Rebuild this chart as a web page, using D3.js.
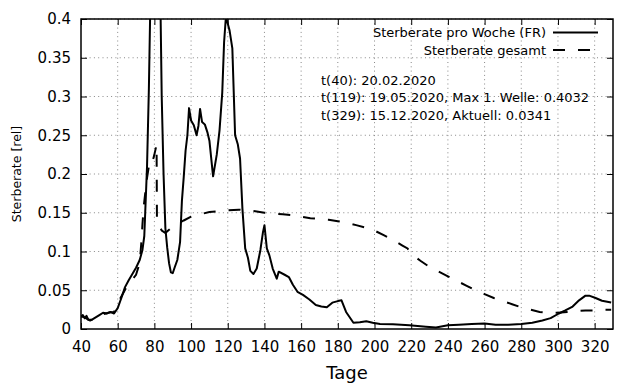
<!DOCTYPE html>
<html><head><meta charset="utf-8">
<script src="https://cdn.jsdelivr.net/npm/d3@7"></script>
<style>body{margin:0;background:#fff;} svg{display:block;font-family:"DejaVu Sans",sans-serif;}</style>
</head><body>
<svg id="c" width="640" height="384"></svg>
<script>
// Weekly death rate (FR)
const weeklyDays = [40,41,42,43,44,45,46,48,50,52,54,56,58,60,62,64,66,68,70,72,73.5,74.5,75,76,77,77.8,79,82,83.3,84,85,86,87,88,89,90,91,92.5,94,95,96,97,98,98.9,100,101.5,103,104,104.9,106,107.5,109,110,112,114,115.5,117,118,119,121,122.5,124,125.5,126.7,128,129.5,131,132.3,134,135.8,137.8,139.2,140,141.3,142.7,144.5,146.7,147.8,151,153.3,155.5,158,161,164.5,168,171,174,177,180,182,184.5,188.5,192,195.5,199,203,210,219,228,233.5,240,246,253,260,266,273,280,286,291.5,296,300.5,304,308,311.5,315,317,320.5,324,329];
const weeklyRate = [0.016,0.018,0.014,0.017,0.012,0.011,0.012,0.015,0.018,0.021,0.020,0.022,0.020,0.027,0.040,0.054,0.063,0.071,0.079,0.089,0.102,0.120,0.150,0.210,0.310,0.42,0.65,0.65,0.42,0.30,0.20,0.13,0.105,0.085,0.073,0.072,0.079,0.089,0.112,0.165,0.196,0.230,0.250,0.285,0.269,0.263,0.250,0.262,0.284,0.267,0.264,0.253,0.243,0.197,0.225,0.256,0.305,0.370,0.4032,0.385,0.362,0.250,0.238,0.220,0.155,0.104,0.092,0.075,0.071,0.078,0.102,0.125,0.134,0.104,0.095,0.078,0.065,0.074,0.070,0.067,0.057,0.048,0.044,0.038,0.031,0.029,0.028,0.034,0.036,0.037,0.022,0.008,0.0086,0.010,0.008,0.0064,0.006,0.0047,0.003,0.002,0.0047,0.0056,0.0064,0.007,0.0056,0.0056,0.0064,0.008,0.011,0.014,0.020,0.024,0.029,0.037,0.043,0.043,0.040,0.0365,0.0341];
// Total death rate
const totalDays = [40,42,44,46,50,55,58,60,62,65,68,70,72,73,73.5,74.2,75,76,77,78,79,80,81.2,81.4,82,84,86,88,90,93,96,100,105,110,115,120,126,130,135,140,145,150,155,160,165,170,175,180,185,190,195,200,205,210,215,218,220,225,230,235,240,245,250,255,260,265,270,275,280,285,290,295,300,305,310,315,320,325,329];
const totalRate = [0.016,0.015,0.012,0.012,0.018,0.021,0.022,0.033,0.042,0.055,0.064,0.070,0.085,0.115,0.135,0.158,0.175,0.195,0.210,0.218,0.216,0.225,0.238,0.140,0.136,0.127,0.124,0.128,0.132,0.136,0.140,0.145,0.148,0.151,0.152,0.153,0.154,0.153,0.152,0.150,0.149,0.148,0.147,0.145,0.143,0.142,0.141,0.139,0.137,0.134,0.131,0.127,0.121,0.115,0.108,0.104,0.097,0.088,0.080,0.074,0.068,0.062,0.056,0.050,0.045,0.040,0.036,0.032,0.028,0.025,0.022,0.021,0.021,0.022,0.023,0.024,0.024,0.025,0.025];
const xTicks = [40,60,80,100,120,140,160,180,200,220,240,260,280,300,320];
const yTicks = [0,0.05,0.1,0.15,0.2,0.25,0.3,0.35,0.4];
const legendLabels = ["Sterberate pro Woche (FR)","Sterberate gesamt"];
const infoLines = ["t(40): 20.02.2020","t(119): 19.05.2020, Max 1. Welle: 0.4032","t(329): 15.12.2020, Aktuell: 0.0341"];
const xTitle = "Tage", yTitle = "Sterberate [rel]";

const L=81, R=613, T=19, B=329;
const svg = d3.select("#c");
const x = d3.scaleLinear().domain([40,330]).range([L,R]);
const y = d3.scaleLinear().domain([0,0.4]).range([B,T]);

// grid
const g = svg.append("g");
g.selectAll(".gx").data(xTicks.filter(d=>d>40)).join("line")
  .attr("x1",d=>x(d)).attr("x2",d=>x(d)).attr("y1",T).attr("y2",B)
  .attr("stroke","#888").attr("stroke-width",1).attr("stroke-dasharray","1,3.3");
g.selectAll(".gy").data(yTicks.filter(d=>d>0)).join("line")
  .attr("y1",d=>y(d)).attr("y2",d=>y(d)).attr("x1",L).attr("x2",R)
  .attr("stroke","#888").attr("stroke-width",1).attr("stroke-dasharray","1,3.3");

// axes (ticks inward, mirrored)
const fmt = d=> d===0? "0" : String(+d.toFixed(2));
const ax = svg.append("g").attr("transform",`translate(0,${B})`)
  .call(d3.axisBottom(x).tickValues(xTicks).tickSizeInner(-6).tickSizeOuter(0).tickPadding(12));
const axT = svg.append("g").attr("transform",`translate(0,${T})`)
  .call(d3.axisTop(x).tickValues(xTicks).tickSizeInner(-6).tickSizeOuter(0).tickFormat(""));
const ay = svg.append("g").attr("transform",`translate(${L},0)`)
  .call(d3.axisLeft(y).tickValues(yTicks).tickFormat(fmt).tickSizeInner(-6).tickSizeOuter(0).tickPadding(10));
const ayR = svg.append("g").attr("transform",`translate(${R},0)`)
  .call(d3.axisRight(y).tickValues(yTicks).tickSizeInner(-6).tickSizeOuter(0).tickFormat(""));
[ax,axT,ay,ayR].forEach(a=>{a.select(".domain").remove(); a.selectAll("line").attr("stroke","#000").attr("stroke-width",1);});
ax.selectAll("text").attr("font-size",15).attr("fill","#000").attr("font-family","DejaVu Sans");
ay.selectAll("text").attr("font-size",15).attr("fill","#000").attr("font-family","DejaVu Sans");
svg.append("rect").attr("x",L).attr("y",T).attr("width",R-L).attr("height",B-T)
  .attr("fill","none").attr("stroke","#000").attr("stroke-width",1.5);

// clip
svg.append("clipPath").attr("id","clip").append("rect").attr("x",L).attr("y",T).attr("width",R-L).attr("height",B-T);
const line = d3.line().x(d=>x(d[0])).y(d=>y(d[1]));
const plot = svg.append("g").attr("clip-path","url(#clip)");
plot.append("path").datum(d3.zip(totalDays,totalRate)).attr("d",line)
  .attr("fill","none").attr("stroke","#000").attr("stroke-width",2).attr("stroke-dasharray","12,13");
plot.append("path").datum(d3.zip(weeklyDays,weeklyRate)).attr("d",line)
  .attr("fill","none").attr("stroke","#000").attr("stroke-width",2).attr("stroke-linejoin","round");

// legend
const lg = svg.append("g");
legendLabels.forEach((t,i)=>{
  const yy = 32.5 + i*17.5;
  lg.append("text").attr("x",546).attr("y",yy).attr("dy","0.35em").attr("text-anchor","end")
    .attr("font-size",13).text(t);
  lg.append("line").attr("x1",553).attr("x2",598).attr("y1",yy).attr("y2",yy)
    .attr("stroke","#000").attr("stroke-width",2).attr("stroke-dasharray",i? "12,13":null);
});
infoLines.forEach((t,i)=>{
  svg.append("text").attr("x",321).attr("y",80+i*17.5).attr("dy","0.35em").attr("font-size",13).text(t);
});

svg.append("text").attr("x",(L+R)/2).attr("y",373).attr("dy","0.35em").attr("text-anchor","middle")
  .attr("font-size",18).text(xTitle);
svg.append("text").attr("transform",`translate(17,${(T+B)/2}) rotate(-90)`).attr("dy","0.35em")
  .attr("text-anchor","middle").attr("font-size",12.5).text(yTitle);
</script>
</body></html>
